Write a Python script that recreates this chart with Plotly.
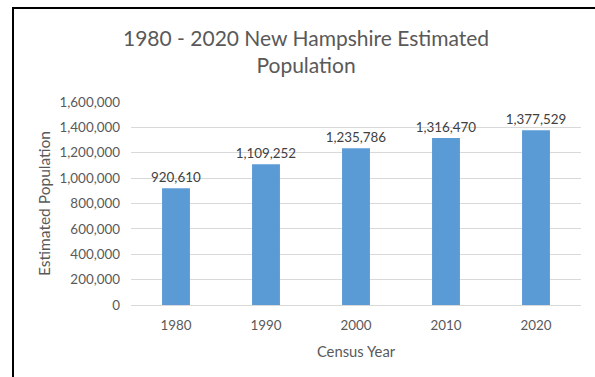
import plotly.graph_objects as go

years = ["1980", "1990", "2000", "2010", "2020"]
population = [920610, 1109252, 1235786, 1316470, 1377529]
y_ticks = [0, 200000, 400000, 600000, 800000, 1000000, 1200000, 1400000, 1600000]

W, H = 595, 377
L, R, T, B = 131, 14, 102, 72
pw, ph = W - L - R, H - T - B

def px_x(px):
    return (px - L) / pw

def px_y(py):
    return (H - B - py) / ph

FONT = "Lato"
TXT = "#595959"

fig = go.Figure(go.Bar(
    x=years, y=population,
    marker=dict(color="#5B9BD5", line=dict(width=0)),
    text=[f"{v:,}" for v in population],
    textposition="outside",
    constraintext="none",
    textfont=dict(family=FONT, size=13.4, color="#404040"),
    cliponaxis=False,
))

fig.update_layout(
    width=W, height=H,
    margin=dict(l=L, r=R, t=T, b=B),
    paper_bgcolor="white", plot_bgcolor="white",
    bargap=0.69,
    showlegend=False,
    font=dict(family=FONT, color=TXT),
    xaxis=dict(
        showgrid=False, showline=True, linecolor="#D9D9D9", linewidth=1,
        ticks="", tickfont=dict(size=13.4, color=TXT), ticklabelstandoff=8,
        title=dict(text="Census Year", font=dict(size=14.8, color=TXT), standoff=14),
    ),
    yaxis=dict(
        range=[0, 1600000], tickvals=y_ticks,
        tickformat=",", showgrid=True, gridcolor="#D9D9D9", gridwidth=1,
        zeroline=False, showline=False, ticks="",
        tickfont=dict(size=13.4, color=TXT), ticklabelstandoff=10,
        title=dict(text="Estimated Population", font=dict(size=15.5, color=TXT), standoff=5),
    ),
    annotations=[
        dict(text="1980 - 2020 New Hampshire Estimated<br>Population",
             xref="paper", yref="paper", x=px_x(306), y=px_y(23),
             xanchor="center", yanchor="top", showarrow=False,
             font=dict(size=21, color=TXT, family=FONT)),
    ],
    shapes=[
        dict(type="line", xref="paper", yref="paper",
             x0=px_x(13), y0=px_y(380), x1=px_x(13), y1=px_y(8),
             line=dict(color="black", width=2)),
        dict(type="line", xref="paper", yref="paper",
             x0=px_x(12), y0=px_y(8), x1=px_x(600), y1=px_y(8),
             line=dict(color="black", width=2)),
    ],
)

fig.write_html("out.html")
